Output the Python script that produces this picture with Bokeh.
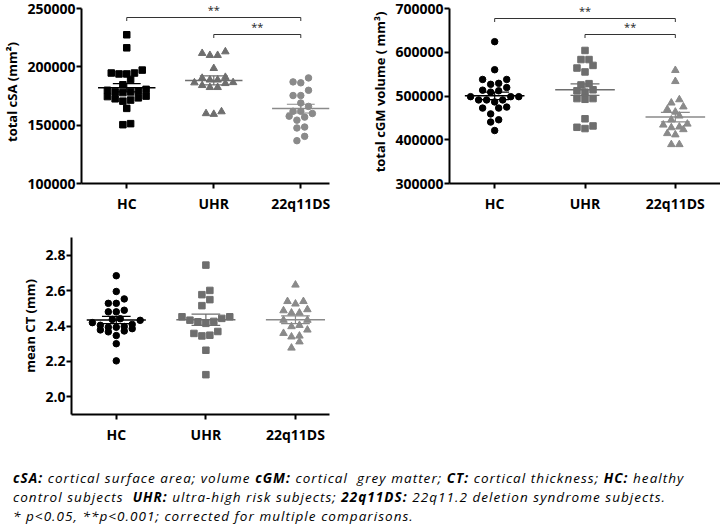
import numpy as np
from bokeh.plotting import figure
from bokeh.models import Range1d, FixedTicker, Div, NumeralTickFormatter, Label
from bokeh.layouts import column, row
from bokeh.embed import file_html
from bokeh.resources import INLINE

# ---------------- data ----------------
groups = ["HC", "UHR", "22q11DS"]

cSA_HC = [227500, 216300, 194700, 193900, 197200, 193900, 194700, 189200, 184600, 179900, 178500, 178500,
          179300, 177900, 180700, 174900, 173400, 171500, 170600, 172600, 174500, 164400, 150400, 151300]
cSA_UHR = [211600, 209900, 209900, 213000, 198700, 188800, 186600, 185800, 190300, 191100, 186400, 188800,
           182400, 182400, 184100, 161600, 159400, 160000]
cSA_22q = [190500, 187100, 186300, 179900, 175400, 175400, 169000, 166100, 161900, 161900, 160000, 157700,
           154300, 156900, 148400, 147600, 140400, 136700]

cGM_HC = [624200, 560100, 526700, 537800, 528900, 537800, 519300, 513300, 508800, 511900, 498500, 491000,
          486500, 491000, 491000, 498500, 498500, 472400, 459100, 472400, 474700, 445700, 440500, 421100]
cGM_UHR = [604100, 583300, 583300, 569900, 563900, 555000, 528200, 525300, 514200, 511900, 508800, 494100,
           492500, 494100, 447900, 431600, 425600, 428500]
cGM_22q = [558700, 533400, 491800, 484300, 475400, 469500, 463500, 454600, 445700, 436100, 433900, 429400,
           423400, 427800, 414400, 411500, 389200, 389200]

CT_HC = [2.684, 2.595, 2.553, 2.528, 2.528, 2.489, 2.480, 2.480, 2.441, 2.432, 2.437, 2.419,
         2.409, 2.397, 2.393, 2.378, 2.367, 2.372, 2.385, 2.393, 2.404, 2.346, 2.300, 2.203]
CT_UHR = [2.744, 2.601, 2.577, 2.549, 2.515, 2.452, 2.433, 2.424, 2.415, 2.426, 2.443, 2.452,
          2.358, 2.344, 2.348, 2.369, 2.263, 2.125]
CT_22q = [2.632, 2.539, 2.539, 2.525, 2.493, 2.487, 2.474, 2.474, 2.433, 2.433, 2.397, 2.404,
          2.378, 2.359, 2.344, 2.339, 2.311, 2.276]

cSA_ticks = [100000, 150000, 200000, 250000]
cGM_ticks = [300000, 400000, 500000, 600000, 700000]
CT_ticks = [2.0, 2.2, 2.4, 2.6, 2.8]

sig_pairs = [(0, 2, "**"), (1, 2, "**")]

# ---------------- style ----------------
colors = ["#000000", "#6e6e6e", "#8a8a8a"]
FONT = "Open Sans"
CAT_PX = 90.0


def swarm(vals, px_per_unit, bin_px=7.0, step_px=8.0):
    vals = np.asarray(vals, dtype=float)
    order = np.argsort(vals)
    bins, cur, start = [], [], None
    for i in order:
        v = vals[i]
        if start is None or (v - start) * px_per_unit > bin_px:
            if cur:
                bins.append(cur)
            cur, start = [i], v
        else:
            cur.append(i)
    if cur:
        bins.append(cur)
    offs = np.zeros(len(vals))
    for b in bins:
        n = len(b)
        slots = [(k - (n - 1) / 2.0) for k in range(n)]
        slots.sort(key=lambda s: (abs(s), s))
        for idx, s in zip(b, slots):
            offs[idx] = s * step_px / CAT_PX
    return offs


def panel(series, markers, msizes, ylabel, ylim, yticks, fmt, xr, width, height,
          bl, br, bt, bb, pad_px=0.0, sig=None, sig_px=(15, 33)):
    frame_h = height - bt - bb
    ppu = (frame_h - pad_px) / (ylim[1] - ylim[0])
    ytop = ylim[1] + pad_px / ppu
    p = figure(width=width, height=height, x_range=Range1d(*xr), y_range=Range1d(ylim[0], ytop),
               output_backend="svg", toolbar_location=None,
               min_border_left=bl, min_border_right=br, min_border_top=bt, min_border_bottom=bb)
    p.outline_line_color = None
    p.xgrid.visible = False
    p.ygrid.visible = False
    for i, (vals, mk, ms) in enumerate(zip(series, markers, msizes)):
        c = colors[i]
        offs = swarm(vals, ppu)
        xs = i + offs
        p.scatter(xs, vals, marker=mk, size=ms, color=c, line_color=c)
        arr = np.asarray(vals, dtype=float)
        m = arr.mean()
        se = arr.std(ddof=1) / np.sqrt(len(arr))
        p.segment(x0=[i - 0.33], x1=[i + 0.33], y0=[m], y1=[m], line_color=c, line_width=1.5)
        p.segment(x0=[i, i - 0.16, i - 0.16], x1=[i, i + 0.16, i + 0.16],
                  y0=[m - se, m + se, m - se], y1=[m + se, m + se, m - se], line_color=c, line_width=1.2)
    if sig:
        for (a, b, lab), spx in zip(sig, sig_px):
            yb = ytop - spx / ppu
            drop = 3.5 / ppu
            p.segment(x0=[a, a, b], x1=[b, a, b], y0=[yb, yb, yb], y1=[yb, yb - drop, yb - drop],
                      line_color="#333333", line_width=1)
            p.add_layout(Label(x=(a + b) / 2.0, y=yb + 0.5 / ppu, text=lab, text_align="center",
                               text_baseline="bottom", text_font=FONT, text_font_size="11px",
                               text_color="#222222"))
    p.xaxis.ticker = FixedTicker(ticks=[0, 1, 2])
    p.xaxis.major_label_overrides = {i: g for i, g in enumerate(groups)}
    p.yaxis.ticker = FixedTicker(ticks=yticks)
    p.yaxis.formatter = NumeralTickFormatter(format=fmt)
    p.yaxis.bounds = (ylim[0], ylim[1])
    p.yaxis.axis_label = ylabel
    for ax in (p.xaxis[0], p.yaxis[0]):
        ax.axis_line_width = 2
        ax.axis_line_color = "black"
        ax.major_tick_line_width = 2
        ax.major_tick_line_color = "black"
        ax.major_tick_out = 5
        ax.major_tick_in = 0
        ax.minor_tick_out = 0
        ax.minor_tick_in = 0
        ax.major_label_text_font = FONT
        ax.major_label_text_font_style = "bold"
        ax.major_label_text_font_size = "14px"
        ax.major_label_text_color = "black"
        ax.axis_label_text_font = FONT
        ax.axis_label_text_font_style = "bold"
        ax.axis_label_text_font_size = "13px"
        ax.axis_label_text_color = "black"
    p.yaxis.major_label_standoff = 1
    p.yaxis.axis_label_standoff = 3
    p.xaxis.major_label_standoff = 5
    return p


p1 = panel([cSA_HC, cSA_UHR, cSA_22q], ["square", "triangle", "circle"], [6.5, 7.5, 6.5],
           "total cSA (mm²)", (100000, 250000), cSA_ticks, "0", (-0.52, 2.33),
           367, 230, 72, 38, 0, 47, pad_px=8, sig=sig_pairs, sig_px=(17, 34))
p2 = panel([cGM_HC, cGM_UHR, cGM_22q], ["circle", "square", "triangle"], [6.5, 6.5, 7.5],
           "total cGM volume ( mm³)", (300000, 700000), cGM_ticks, "0", (-0.5, 2.5),
           353, 230, 82, 0, 0, 47, pad_px=8, sig=sig_pairs, sig_px=(18, 34))
p3 = panel([CT_HC, CT_UHR, CT_22q], ["circle", "square", "triangle"], [6.5, 6.5, 7.5],
           "mean CT (mm)", (1.9, 2.9), CT_ticks, "0.0", (-0.5, 2.38),
           367, 216, 71, 38, 7, 30)

caption = ('<div style="font-family:\'Open Sans\';font-style:italic;font-size:13.5px;line-height:19px;'
           'letter-spacing:1.05px;white-space:nowrap;color:#000;padding-top:18px;padding-left:8px;">'
           '<b>cSA:</b> cortical surface area; volume <b>cGM:</b> cortical&nbsp; grey matter; '
           '<b>CT:</b> cortical thickness; <b>HC:</b> healthy<br>'
           'control subjects&nbsp; <b>UHR:</b> ultra-high risk subjects; <b>22q11DS:</b> '
           '22q11.2 deletion syndrome subjects.<br>'
           '* p&lt;0.05, **p&lt;0.001; corrected for multiple comparisons.</div>')
div = Div(text=caption, width=720, height=78)

layout = column(row(p1, p2), p3, div)
open("out.html", "w").write(file_html(layout, INLINE))
